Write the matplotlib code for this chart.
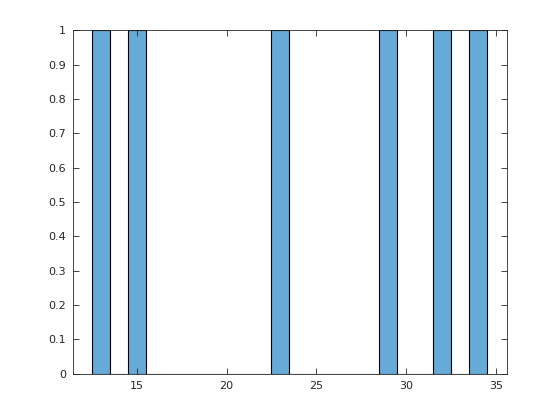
import numpy as np
import matplotlib
matplotlib.use("Agg")
import matplotlib.pyplot as plt

values = [13, 15, 23, 29, 32, 34]
bin_edges = np.arange(12.5, 35.0, 1.0)

fig = plt.figure(figsize=(5.6, 4.2), dpi=100)
ax = fig.add_axes([0.13, 0.11, 0.775, 0.818])

ax.hist(values, bins=bin_edges, color=(102/255, 170/255, 215/255),
        edgecolor="black", linewidth=0.8)

ax.set_xlim(11.44, 35.6)
ax.set_ylim(0, 1)
ax.set_xticks([15, 20, 25, 30, 35])
ax.set_yticks(np.arange(0, 1.01, 0.1))
ax.set_yticklabels(["0", "0.1", "0.2", "0.3", "0.4", "0.5", "0.6", "0.7", "0.8", "0.9", "1"])

ax.tick_params(direction="in", top=True, right=True, length=4, width=0.6,
               labelsize=8, colors="#262626", pad=5)
for s in ax.spines.values():
    s.set_linewidth(0.6)
    s.set_color("#262626")

fig.savefig("out.png", dpi=100)
